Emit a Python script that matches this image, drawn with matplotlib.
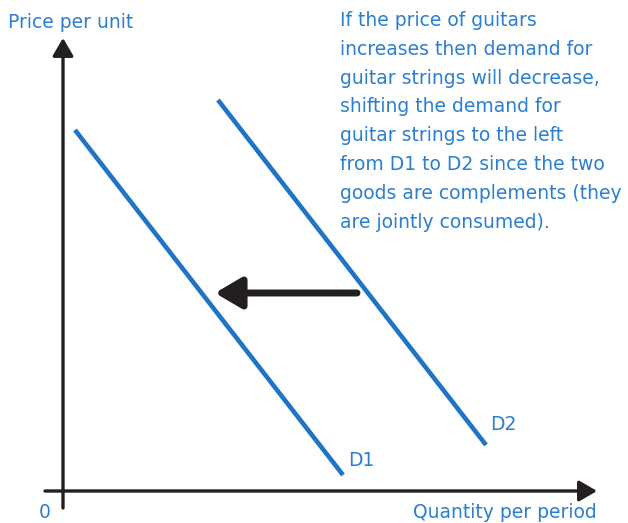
import matplotlib
matplotlib.use("Agg")
import matplotlib.pyplot as plt

# demand curves as (quantity, price) end points
d1_q = [12, 280]
d1_p = [361, 16]
d2_q = [155, 423]
d2_p = [391, 46]

# shift arrow from D2 back to D1
shift_q = [294, 152]
shift_p = 198

curve_labels = ["D1", "D2"]
note = ("If the price of guitars\n"
        "increases then demand for\n"
        "guitar strings will decrease,\n"
        "shifting the demand for\n"
        "guitar strings to the left\n"
        "from D1 to D2 since the two\n"
        "goods are complements (they\n"
        "are jointly consumed).")

blue = "#1f74c6"
text_blue = "#2b7fd0"
dark = "#231f20"

fig = plt.figure(figsize=(6.28, 5.23), dpi=100)
ax = fig.add_axes([0, 0, 1, 1])
ax.set_xlim(-63, 565)
ax.set_ylim(-32, 491)
ax.axis("off")

# axes with arrow heads
axis_style = "-|>,head_length=0.6,head_width=0.35"
ax.annotate("", xy=(534, 0), xytext=(-18, 0),
            arrowprops=dict(arrowstyle=axis_style, mutation_scale=18,
                            lw=2.4, color=dark, shrinkA=0, shrinkB=0))
ax.annotate("", xy=(0, 453), xytext=(0, -17),
            arrowprops=dict(arrowstyle=axis_style, mutation_scale=18,
                            lw=2.4, color=dark, shrinkA=0, shrinkB=0))

# demand curves
ax.plot(d1_q, d1_p, color=blue, lw=3.3, solid_capstyle="butt")
ax.plot(d2_q, d2_p, color=blue, lw=3.3, solid_capstyle="butt")

ax.annotate("", xy=(shift_q[1], shift_p), xytext=(shift_q[0], shift_p),
            arrowprops=dict(arrowstyle="-|>,head_length=0.8,head_width=0.47",
                            mutation_scale=20, lw=5, color=dark,
                            shrinkA=0, shrinkB=0))

fs = 13.5
ax.text(d1_q[1] + 5, d1_p[1] + 15, curve_labels[0], color=text_blue,
        fontsize=fs, va="center", ha="left")
ax.text(d2_q[1] + 4, d2_p[1] + 20, curve_labels[1], color=text_blue,
        fontsize=fs, va="center", ha="left")

ax.text(-55, 469, "Price per unit", color=text_blue, fontsize=fs,
        va="center", ha="left")
ax.text(-18, -22, "0", color=text_blue, fontsize=fs, va="center", ha="center")
ax.text(534, -22, "Quantity per period", color=text_blue, fontsize=fs,
        va="center", ha="right")

ax.text(277, 480, note, color=text_blue, fontsize=fs, va="top", ha="left",
        linespacing=1.655)

fig.savefig("out.png", dpi=100)
